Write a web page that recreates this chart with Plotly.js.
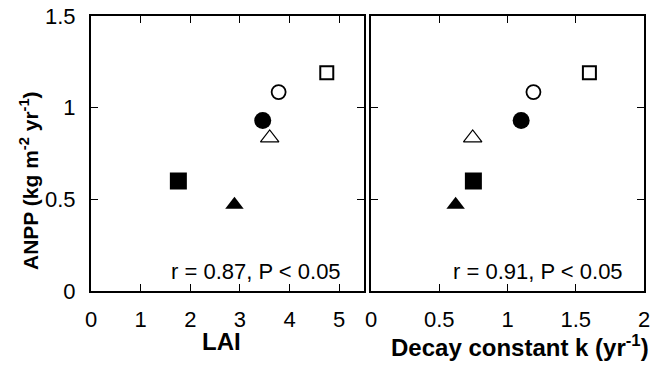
<!DOCTYPE html>
<html>
<head>
<meta charset="utf-8">
<script src="https://cdn.plot.ly/plotly-3.0.1.min.js"></script>
<style>html,body{margin:0;padding:0;background:#fff;}#chart{width:670px;height:365px;}</style>
</head>
<body>
<div id="chart"></div>
<script>
// Data (six sites, same order in both panels)
const lai    = [1.76, 2.89, 3.46, 3.60, 3.78, 4.75];
const decayK = [0.75, 0.62, 1.10, 0.745, 1.19, 1.60];
const anpp   = [0.60, 0.47, 0.93, 0.835, 1.085, 1.19];

const laiTicks   = [0, 1, 2, 3, 4, 5];
const kTicks     = [0, 0.5, 1, 1.5, 2];
const kTickText  = ['0', '0.5', '1', '1.5', '2'];
const anppTicks  = [0, 0.5, 1, 1.5];
const anppText   = ['0', '0.5', '1', '1.5'];
const statsLAI   = 'r = 0.87, P < 0.05';
const statsK     = 'r = 0.91, P < 0.05';

// marker styles per site
const symbols   = ['square', 'triangle-up', 'circle', 'triangle-up', 'circle', 'square'];
const fills     = ['black', 'black', 'black', 'white', 'white', 'white'];
const sizes     = [17, 16, 17, 16, 14, 13];
const lineWs    = [0, 0, 0, 1.2, 1.8, 2];

const FONT = 'Liberation Sans, Arial, Helvetica, sans-serif';

function markerStyle() {
  return {symbol: symbols, color: fills, size: sizes, opacity: 1, line: {color: 'black', width: lineWs}};
}

const traces = [
  {x: lai, y: anpp, xaxis: 'x', yaxis: 'y', type: 'scatter', mode: 'markers', marker: markerStyle(), hoverinfo: 'x+y'},
  {x: decayK, y: anpp, xaxis: 'x2', yaxis: 'y2', type: 'scatter', mode: 'markers', marker: markerStyle(), hoverinfo: 'x+y'}
];

const W = 670;
const axisCommon = {
  showline: true, linecolor: 'black', linewidth: 2, mirror: 'ticks',
  ticks: 'inside', ticklen: 7, tickwidth: 1, tickcolor: 'black',
  showgrid: false, zeroline: false, fixedrange: true,
  tickfont: {family: FONT, size: 22, color: 'black'}
};

const layout = {
  width: 670, height: 365,
  margin: {l: 0, r: 0, t: 16, b: 74},
  paper_bgcolor: 'white', plot_bgcolor: 'white',
  showlegend: false,
  xaxis: Object.assign({}, axisCommon, {domain: [91 / W, 364 / W], range: [0, 5.5], tickvals: laiTicks, ticktext: laiTicks.map(String), anchor: 'y', ticklabelstandoff: 8}),
  yaxis: Object.assign({}, axisCommon, {domain: [0, 1], range: [0, 1.5], tickvals: anppTicks, ticktext: anppText, anchor: 'x', ticklabelstandoff: 9}),
  xaxis2: Object.assign({}, axisCommon, {domain: [371 / W, 644 / W], range: [0, 2], tickvals: kTicks, ticktext: kTickText, anchor: 'y2', ticklabelstandoff: 8}),
  yaxis2: Object.assign({}, axisCommon, {domain: [0, 1], range: [0, 1.5], tickvals: anppTicks, showticklabels: false, anchor: 'x2'}),
  annotations: [
    {text: '<b>ANPP (kg m<sup>-2</sup> yr<sup>-1</sup>)</b>', xref: 'paper', yref: 'paper', x: 29 / W, y: 0.40, xanchor: 'center', yanchor: 'middle', textangle: -90, showarrow: false, font: {family: FONT, size: 21, color: 'black'}},
    {text: '<b>LAI</b>', xref: 'paper', yref: 'paper', x: 221.7 / W, y: -0.185, xanchor: 'center', yanchor: 'middle', showarrow: false, font: {family: FONT, size: 24, color: 'black'}},
    {text: '<b>Decay constant k (yr<sup>-1</sup>)</b>', xref: 'paper', yref: 'paper', x: 520 / W, y: -0.2, xanchor: 'center', yanchor: 'middle', showarrow: false, font: {family: FONT, size: 24, color: 'black'}},
    {text: statsLAI, xref: 'paper', yref: 'paper', x: 343 / W, y: 0.071, xanchor: 'right', yanchor: 'middle', showarrow: false, font: {family: FONT, size: 22, color: 'black'}},
    {text: statsK, xref: 'paper', yref: 'paper', x: 625 / W, y: 0.071, xanchor: 'right', yanchor: 'middle', showarrow: false, font: {family: FONT, size: 22, color: 'black'}}
  ]
};

Plotly.newPlot('chart', traces, layout, {displayModeBar: false, staticPlot: true});
</script>
</body>
</html>
